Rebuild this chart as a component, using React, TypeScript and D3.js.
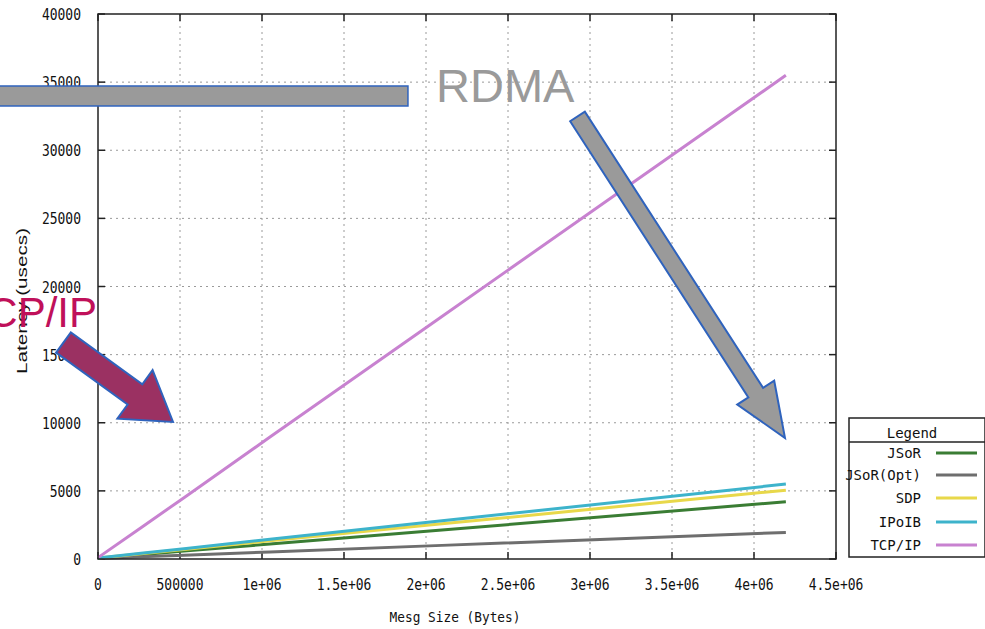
import * as d3 from "d3";

// message sizes (bytes) and latency (usecs) per transport
const sizes = [1, 262144, 524288, 1048576, 2097152, 4194304];
const jsor = [60, 320, 580, 1100, 2130, 4200];
const jsorOpt = [40, 160, 280, 520, 1000, 1950];
const sdp = [70, 390, 700, 1330, 2580, 5050];
const ipoib = [80, 420, 760, 1450, 2800, 5500];
const tcpip = [100, 2300, 4500, 8950, 17800, 35500];

const seriesNames = ["JSoR", "JSoR(Opt)", "SDP", "IPoIB", "TCP/IP"];
const seriesValues = [jsor, jsorOpt, sdp, ipoib, tcpip];
const seriesColors = ["#3a7d34", "#6e6e6e", "#e8d84a", "#3db3cb", "#c882d0"];

const xTicks = [0, 500000, 1000000, 1500000, 2000000, 2500000, 3000000, 3500000, 4000000, 4500000];
const xTickLabels = ["0", "500000", "1e+06", "1.5e+06", "2e+06", "2.5e+06", "3e+06", "3.5e+06", "4e+06", "4.5e+06"];
const yTicks = [0, 5000, 10000, 15000, 20000, 25000, 30000, 35000, 40000];

const W = 985;
const H = 629;
const plot = { left: 98, right: 836, top: 14, bottom: 559 };

const x = d3.scaleLinear().domain([0, 4500000]).range([plot.left, plot.right]);
const y = d3.scaleLinear().domain([0, 40000]).range([plot.bottom, plot.top]);

const mono = "'DejaVu Sans Mono', monospace";

// block arrow outline (start -> tip), all sizes in px
function blockArrow(x0: number, y0: number, x1: number, y1: number, sw: number, hw: number, hl: number) {
  const len = Math.hypot(x1 - x0, y1 - y0);
  const ux = (x1 - x0) / len;
  const uy = (y1 - y0) / len;
  const nx = -uy;
  const ny = ux;
  const bx = x1 - ux * hl;
  const by = y1 - uy * hl;
  const pts = [
    [x0 + (nx * sw) / 2, y0 + (ny * sw) / 2],
    [bx + (nx * sw) / 2, by + (ny * sw) / 2],
    [bx + (nx * hw) / 2, by + (ny * hw) / 2],
    [x1, y1],
    [bx - (nx * hw) / 2, by - (ny * hw) / 2],
    [bx - (nx * sw) / 2, by - (ny * sw) / 2],
    [x0 - (nx * sw) / 2, y0 - (ny * sw) / 2],
  ];
  return pts.map((p) => p.join(",")).join(" ");
}

export default function App() {
  const line = d3
    .line<number>()
    .x((_, i) => x(sizes[i]))
    .y((d) => y(d));

  const legend = { x: 849, y: 418, w: 136, h: 139 };
  const legendRows = [453, 475, 498, 522, 545];

  // annotation anchors in data space
  const rdmaStart: [number, number] = [2923800, 32477];
  const rdmaTip: [number, number] = [4189000, 8881];
  const tcpStart: [number, number] = [-210366, 15890];
  const tcpTip: [number, number] = [457317, 10055];

  return (
    <svg
      width={W}
      height={H}
      style={{ position: "absolute", left: 0, top: 0, background: "#fff" }}
    >
      <rect width={W} height={H} fill="#fff" />

      {/* grid */}
      <g stroke="#9a9a9a" strokeWidth={1} strokeDasharray="2,4">
        {xTicks.slice(1, -1).map((t) => (
          <line key={"gx" + t} x1={x(t)} x2={x(t)} y1={plot.top} y2={plot.bottom} />
        ))}
        {yTicks.slice(1, -1).map((t) => (
          <line key={"gy" + t} x1={plot.left} x2={plot.right} y1={y(t)} y2={y(t)} />
        ))}
      </g>

      {/* ticks (mirrored) */}
      <g stroke="#222" strokeWidth={1.5}>
        {xTicks.map((t) => (
          <g key={"tx" + t}>
            <line x1={x(t)} x2={x(t)} y1={plot.bottom} y2={plot.bottom - 7} />
            <line x1={x(t)} x2={x(t)} y1={plot.top} y2={plot.top + 7} />
          </g>
        ))}
        {yTicks.map((t) => (
          <g key={"ty" + t}>
            <line x1={plot.left} x2={plot.left + 7} y1={y(t)} y2={y(t)} />
            <line x1={plot.right} x2={plot.right - 7} y1={y(t)} y2={y(t)} />
          </g>
        ))}
      </g>

      {/* series */}
      {seriesValues.map((vals, i) => (
        <path
          key={seriesNames[i]}
          d={line(vals) || ""}
          fill="none"
          stroke={seriesColors[i]}
          strokeWidth={3}
        />
      ))}

      {/* frame */}
      <rect
        x={plot.left}
        y={plot.top}
        width={plot.right - plot.left}
        height={plot.bottom - plot.top}
        fill="none"
        stroke="#222"
        strokeWidth={1.5}
      />

      {/* tick labels */}
      <g fontFamily={mono} fontSize={13} fill="#111">
        {yTicks.map((t) => (
          <text
            key={"ly" + t}
            transform={`translate(81,${y(t)}) scale(1,1.25)`}
            textAnchor="end"
            dominantBaseline="central"
          >
            {t}
          </text>
        ))}
        {xTicks.map((t, i) => (
          <text
            key={"lx" + t}
            transform={`translate(${x(t)},584) scale(1,1.25)`}
            textAnchor="middle"
            dominantBaseline="central"
          >
            {xTickLabels[i]}
          </text>
        ))}
        <text
          transform="translate(455,617) scale(1,1.1)"
          textAnchor="middle"
          dominantBaseline="central"
          fontSize={12.8}
        >
          Mesg Size (Bytes)
        </text>
      </g>

      <text
        transform="translate(22,301) rotate(-90) scale(1.48,1)"
        textAnchor="middle"
        dominantBaseline="central"
        fontFamily="'Liberation Sans', Arial, sans-serif"
        fontSize={14}
        fill="#111"
      >
        Latency (usecs)
      </text>

      {/* legend */}
      <g fontFamily={mono} fontSize={14} fill="#111">
        <rect x={legend.x} y={legend.y} width={legend.w} height={legend.h} fill="#fff" stroke="#222" strokeWidth={1.5} />
        <line x1={legend.x} x2={legend.x + legend.w} y1={442} y2={442} stroke="#222" strokeWidth={1.5} />
        <text x={912} y={433} textAnchor="middle" dominantBaseline="central">
          Legend
        </text>
        {seriesNames.map((name, i) => (
          <g key={"lg" + name}>
            <text x={921} y={legendRows[i]} textAnchor="end" dominantBaseline="central">
              {name}
            </text>
            <line x1={936} x2={977} y1={legendRows[i]} y2={legendRows[i]} stroke={seriesColors[i]} strokeWidth={3} />
          </g>
        ))}
      </g>

      {/* annotations */}
      <rect
        x={x(-628000)}
        y={y(34716)}
        width={x(1890000) - x(-628000)}
        height={y(33248) - y(34716)}
        fill="#9a9a9a"
        stroke="#2f63bd"
        strokeWidth={1.5}
      />
      <text
        x={x(2061000)}
        y={y(33541)}
        fontFamily="'Liberation Sans', Arial, sans-serif"
        fontSize={47}
        fill="#9a9a9a"
      >
        RDMA
      </text>
      <polygon
        points={blockArrow(x(rdmaStart[0]), y(rdmaStart[1]), x(rdmaTip[0]), y(rdmaTip[1]), 17.5, 44, 54)}
        fill="#9a9a9a"
        stroke="#2f63bd"
        strokeWidth={2}
        strokeLinejoin="miter"
      />
      <text
        x={x(-6098)}
        y={y(17028)}
        textAnchor="end"
        fontFamily="'Liberation Sans', Arial, sans-serif"
        fontSize={42}
        fill="#c0105a"
      >
        TCP/IP
      </text>
      <polygon
        points={blockArrow(x(tcpStart[0]), y(tcpStart[1]), x(tcpTip[0]), y(tcpTip[1]), 25, 60, 47)}
        fill="#9b3162"
        stroke="#2f63bd"
        strokeWidth={2}
      />
    </svg>
  );
}
